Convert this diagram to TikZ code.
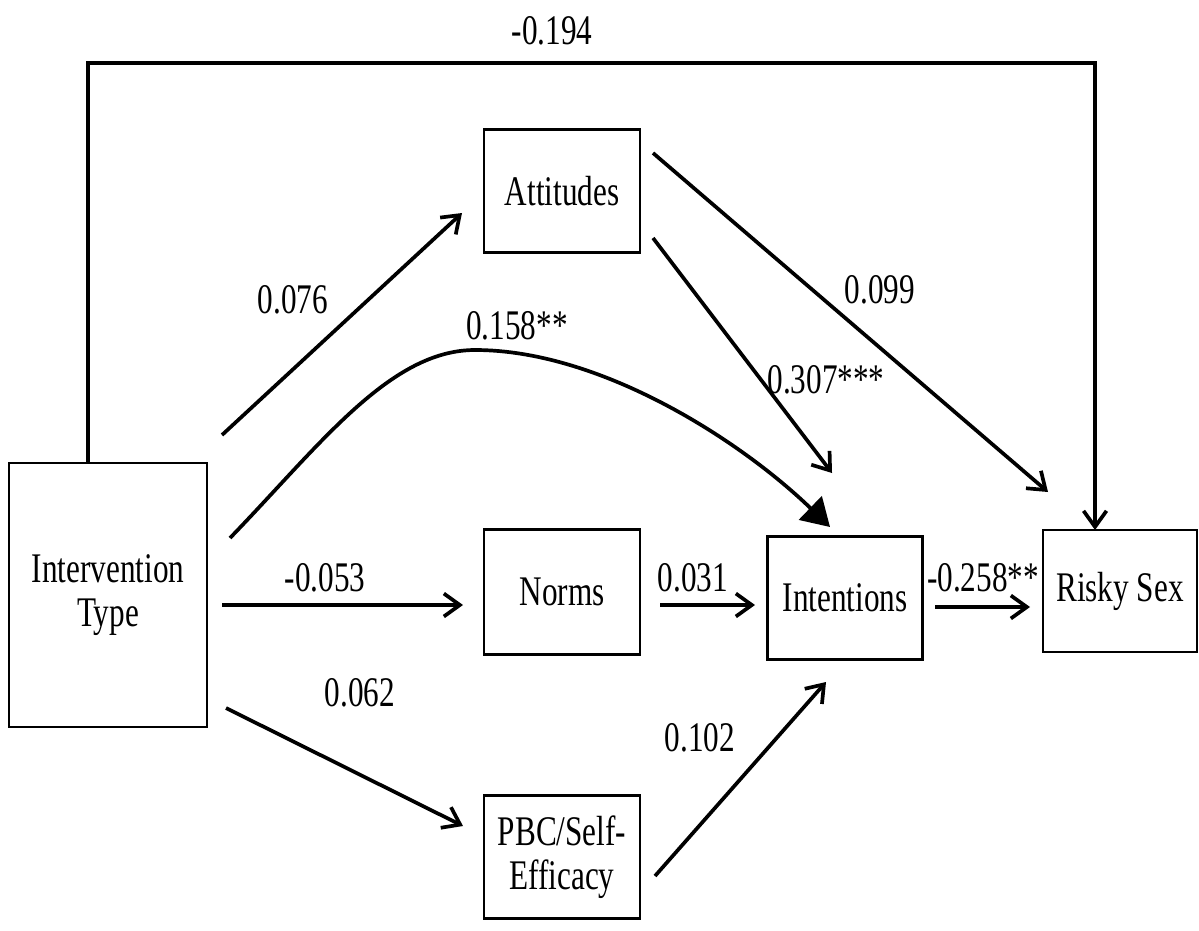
\documentclass[tikz,border=0pt]{standalone}
\usepackage{fontspec}
\setmainfont{Liberation Serif}[FakeStretch=0.74]
\usetikzlibrary{arrows.meta}
\begin{document}
\begin{tikzpicture}[x=0.02cm,y=-0.02cm,
  box/.style={draw,line width=1.2pt,inner sep=0pt,align=center,font=\fontsize{24}{25}\selectfont},
  lab/.style={font=\fontsize{24}{28}\selectfont,inner sep=0pt},
  arr/.style={line width=2.1pt,-{Straight Barb[length=3.2mm,width=4.6mm,line width=2.1pt]}},
  tri/.style={line width=2.1pt,-{Triangle[length=5.5mm,width=6.5mm]}}]
\useasboundingbox (0,0) rectangle (1199,930);
\node[box,minimum width=3.96cm,minimum height=5.28cm] (it) at (108,595) {Intervention\\Type};
\node[box,minimum width=3.12cm,minimum height=2.46cm] (att) at (562,191) {Attitudes};
\node[box,minimum width=3.12cm,minimum height=2.5cm] (nor) at (562,592) {Norms};
\node[box,minimum width=3.1cm,minimum height=2.46cm] (int) at (845,598) {Intentions};
\node[box,minimum width=3.08cm,minimum height=2.44cm] (rs) at (1120,591) {Risky Sex};
\node[box,minimum width=3.12cm,minimum height=2.46cm] (pbc) at (562,857) {PBC/Self-\\Efficacy};
% endpoints
\coordinate (a0) at (88,463);
\coordinate (a1) at (1095,530);
\coordinate (b0) at (222,435);
\coordinate (b1) at (462,213);
\coordinate (c0) at (230,538);
\coordinate (cp) at (475,350);
\coordinate (c1) at (830,527);
\coordinate (d0) at (222,605);
\coordinate (d1) at (463,605);
\coordinate (e0) at (226,708);
\coordinate (e1) at (463,826);
\coordinate (f0) at (660,605);
\coordinate (f1) at (755,605);
\coordinate (g0) at (935,607);
\coordinate (g1) at (1030,607);
\coordinate (h0) at (655,876);
\coordinate (h1) at (826,682);
\coordinate (i0) at (653,238);
\coordinate (i1) at (832,473);
\coordinate (j0) at (653,153);
\coordinate (j1) at (1048,492);
% connectors
\draw[arr] (a0) |- (1095,63) -- (a1);
\draw[arr] (b0) -- (b1);
\draw[tri] (c0) .. controls (320,445) and (390,350) .. (cp) .. controls (600,350) and (740,440) .. (c1);
\draw[arr] (d0) -- (d1);
\draw[arr] (e0) -- (e1);
\draw[arr] (f0) -- (f1);
\draw[arr] (g0) -- (g1);
\draw[arr] (h0) -- (h1);
\draw[arr] (i0) -- (i1);
\draw[arr] (j0) -- (j1);
% labels
\node[lab] (l1) at (552,31) {-0.194};
\node[lab] (l2) at (293,300) {0.076};
\node[lab] (l3) at (517,326) {0.158**};
\node[lab] (l4) at (325,578) {-0.053};
\node[lab] (l5) at (360,693) {0.062};
\node[lab] (l6) at (693,578) {0.031};
\node[lab] (l7) at (983,578) {-0.258**};
\node[lab] (l8) at (700,738) {0.102};
\node[lab] (l9) at (826,380) {0.307***};
\node[lab] (l10) at (880,290) {0.099};
\end{tikzpicture}
\end{document}
